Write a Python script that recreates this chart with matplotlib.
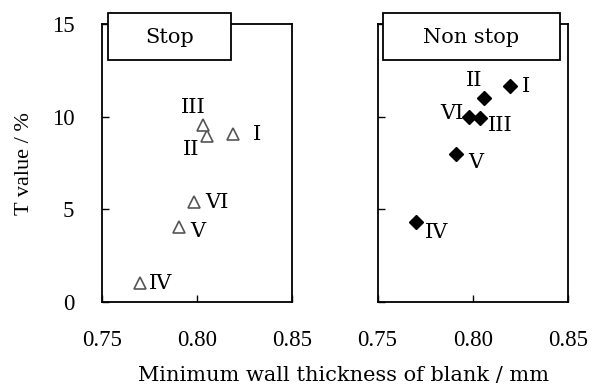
import matplotlib
matplotlib.use("Agg")
import matplotlib.pyplot as plt
from matplotlib.patches import Rectangle

plt.rcParams['font.family'] = 'serif'
plt.rcParams['font.serif'] = ['Liberation Serif']
TIMES = 'Liberation Serif'
CENT = 'DejaVu Serif'

labels = ['I', 'II', 'III', 'IV', 'V', 'VI']
stop_x = [0.819, 0.8054, 0.8033, 0.770, 0.7907, 0.7983]
stop_y = [9.05, 8.96, 9.55, 1.04, 4.03, 5.38]
nonstop_x = [0.8194, 0.8055, 0.8034, 0.770, 0.7909, 0.7981]
nonstop_y = [11.67, 11.02, 9.93, 4.33, 7.99, 10.0]
panel_titles = ['Stop', 'Non stop']
xticks = [0.75, 0.80, 0.85]
xticklabels = ['0.75', '0.80', '0.85']
yticks = [0, 5, 10, 15]
yticklabels = ['0', '5', '10', '15']

# label centre offsets in points (dx, dy)
stop_off = {'I': (17, 1.5), 'II': (-11.5, -8.6), 'III': (-7, 14),
            'IV': (15, 1), 'V': (13.5, -1.5), 'VI': (16.5, 1)}
non_off = {'I': (11.5, 0.5), 'II': (-7, 13.5), 'III': (15, -3.8),
           'IV': (15.3, -6), 'V': (14.6, -4.8), 'VI': (-12.7, 4)}

fig = plt.figure(figsize=(5.92, 3.89), dpi=100)
ax1 = fig.add_axes([0.1723, 0.2237, 0.321, 0.7147])
ax2 = fig.add_axes([0.6377, 0.2237, 0.3226, 0.7147])

for ax, xs, ys, title, offs, kind, bx in [
        (ax1, stop_x, stop_y, panel_titles[0], stop_off, 'tri', (0.03, 0.68)),
        (ax2, nonstop_x, nonstop_y, panel_titles[1], non_off, 'dia', (0.029, 0.955))]:
    if kind == 'tri':
        ax.plot(xs, ys, linestyle='none', marker='^', markersize=8.5,
                markerfacecolor='white', markeredgecolor='#555555', markeredgewidth=1.2)
    else:
        ax.plot(xs, ys, linestyle='none', marker='D', markersize=7.3,
                markerfacecolor='black', markeredgecolor='black')
    for lab, x, y in zip(labels, xs, ys):
        dx, dy = offs[lab]
        ax.annotate(lab, (x, y), xytext=(dx, dy), textcoords='offset points',
                    ha='center', va='center_baseline', fontsize=15, family=CENT)
    ax.set_xlim(0.75, 0.85)
    ax.set_ylim(0, 15)
    ax.set_xticks(xticks)
    ax.set_xticklabels(xticklabels, fontfamily=TIMES, fontsize=16.5)
    ax.set_yticks(yticks)
    ax.set_yticklabels(yticklabels, fontfamily=TIMES, fontsize=16.5)
    ax.tick_params(direction='in', length=5, width=1, pad=20)
    for s in ax.spines.values():
        s.set_linewidth(1.3)
    rect = Rectangle((bx[0], 0.870), bx[1] - bx[0], 0.17, transform=ax.transAxes,
                     facecolor='white', edgecolor='black', linewidth=1.3,
                     clip_on=False, zorder=5)
    ax.add_patch(rect)
    ax.text((bx[0] + bx[1]) / 2, 0.953, title, transform=ax.transAxes,
            ha='center', va='center', fontsize=15, family=CENT, zorder=6)

ax2.set_yticklabels([])
fig.text(0.042, 0.58, 'T value / %', rotation=90, ha='center', va='center',
         fontsize=16, family=TIMES)
fig.text(0.58, 0.0206, 'Minimum wall thickness of blank / mm', ha='center',
         va='baseline', fontsize=15, family=CENT)

fig.savefig('out.png', dpi=100)
